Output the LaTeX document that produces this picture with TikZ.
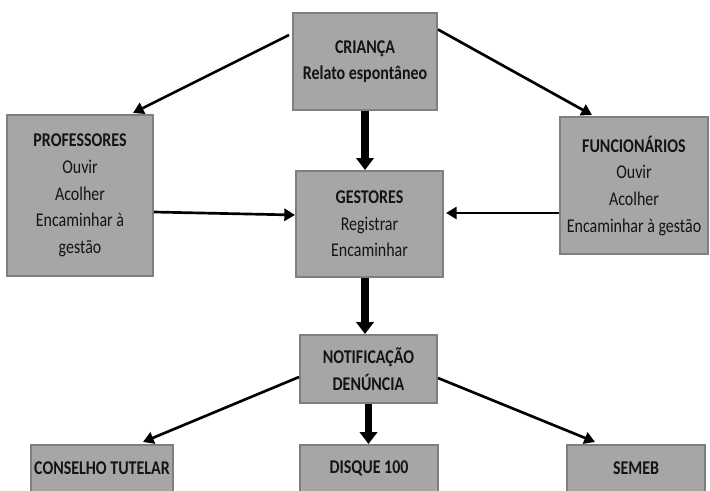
\documentclass[tikz,border=0pt]{standalone}
\usepackage{fontspec}
\setmainfont{Carlito}[FakeStretch=0.82]
\usetikzlibrary{arrows.meta,calc}
\definecolor{boxfill}{HTML}{A6A6A6}
\definecolor{boxline}{HTML}{7F7F7F}
\definecolor{txt}{HTML}{141414}
\begin{document}
\begin{tikzpicture}[x=0.75pt,y=-0.75pt,
 box/.style={draw=boxline,fill=boxfill,line width=1.5pt,inner sep=0pt,align=center,text=txt,font=\fontsize{14.6}{20}\selectfont},
 arrthin/.style={line width=2pt,-{Triangle[length=8pt,width=9pt]}},
 arrthick/.style={line width=5.5pt,-{Triangle[length=9pt,width=13pt]}}]
\clip (0,0) rectangle (710,490);
\fill[white] (0,0) rectangle (710,490);
\node[box,minimum width=108pt,minimum height=72.75pt] (cri) at (365,61.5) {\textbf{CRIANÇA}\\\textbf{Relato espontâneo}};
\node[box,minimum width=109.5pt,minimum height=120.75pt] (prof) at (80,195.5) {\textbf{PROFESSORES}\\Ouvir\\Acolher\\Encaminhar à\\gestão};
\node[box,minimum width=110.25pt,minimum height=79.5pt] (ges) at (369.5,224) {\textbf{GESTORES}\\Registrar\\Encaminhar};
\node[box,minimum width=111pt,minimum height=102.75pt] (fun) at (634,185.5) {\textbf{FUNCIONÁRIOS}\\Ouvir\\Acolher\\Encaminhar à gestão};
\node[box,minimum width=102.75pt,minimum height=51pt] (not) at (368.5,369) {\textbf{NOTIFICAÇÃO}\\\textbf{DENÚNCIA}};
\node[box,minimum width=106.5pt,minimum height=35.25pt] (con) at (102,468.5) {\textbf{CONSELHO TUTELAR}};
\node[box,minimum width=103.5pt,minimum height=35.25pt] (dis) at (369,468.5) {\textbf{DISQUE 100}};
\node[box,minimum width=103.5pt,minimum height=35.25pt] (sem) at (636,468.5) {\textbf{SEMEB}};
\draw[arrthin] (cri.west) ++(-3,-26.5) -- ($(prof.north)+(53,-1)$);
\draw[arrthin] (cri.east) ++(0,-32) -- ($(fun.north)+(-42,-1)$);
\draw[arrthick] (cri.south) -- (cri.south |- ges.north);
\draw[arrthick] (ges.south -| cri.south) -- (not.north -| cri.south);
\draw[arrthick] (not.south) -- (not.south |- dis.north);
\draw[arrthin] (prof.east) ++(0,16.5) -- ($(ges.west)+(0,-9)$);
\draw[arrthin] (fun.west) ++(0,27.5) -- ($(ges.east)+(2,-11)$);
\draw[arrthin] (not.west) ++(0,8) -- ($(con.north)+(41,-2)$);
\draw[arrthin] (not.east) ++(0,9) -- ($(sem.north)+(-41,-2)$);
\end{tikzpicture}
\end{document}
